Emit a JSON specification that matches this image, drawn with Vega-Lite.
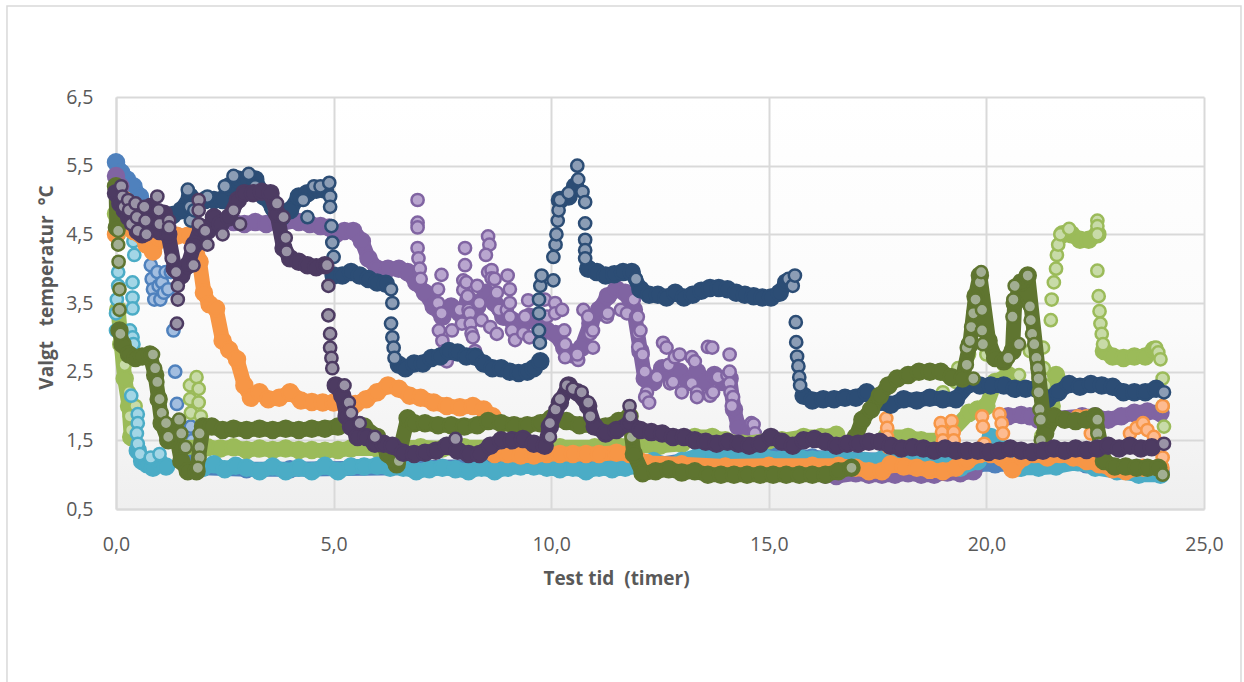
{"$schema":"https://vega.github.io/schema/vega-lite/v6.json","width":1088,"height":412,"autosize":{"type":"none"},"padding":{"left":116,"top":97,"right":40,"bottom":173},"background":"white",
"config":{"view":{"stroke":null,"fill":{"gradient":"linear","x1":0,"y1":0,"x2":0,"y2":1,"stops":[{"offset":0,"color":"#ffffff"},{"offset":0.55,"color":"#fbfbfb"},{"offset":1,"color":"#efefef"}]}}},
"datasets":{
"frame":[{"x1":-2.505,"x2":25.85,"y1":7.825,"y2":-2.3}],
"blue":[{"time":0,"temp":5.55},{"time":0.12,"temp":5.4},{"time":0.25,"temp":5.3},{"time":0.4,"temp":5.2},{"time":0.55,"temp":5.05},{"time":0.7,"temp":4.85},{"time":0.72,"temp":null},{"time":1.7,"temp":1.3},{"time":2,"temp":1.1},{"time":3,"temp":1.08},{"time":4,"temp":1.08},{"time":12.5,"temp":1.15},{"time":14,"temp":1.3},{"time":15,"temp":1.3},{"time":16,"temp":1.25},{"time":19.8,"temp":1.15},{"time":20.2,"temp":1.15},{"time":20.8,"temp":1.15},{"time":21.4,"temp":1.15},{"time":21.8,"temp":1.18},{"time":22.3,"temp":1.15},{"time":23,"temp":1.1},{"time":23.6,"temp":1.05},{"time":24,"temp":1.05}],
"blueOpen":[{"time":0.75,"temp":4.6},{"time":0.78,"temp":4.3},{"time":0.8,"temp":4.05},{"time":0.82,"temp":3.85},{"time":0.85,"temp":3.7},{"time":0.88,"temp":3.55},{"time":0.95,"temp":3.95},{"time":0.98,"temp":3.75},{"time":1.02,"temp":3.55},{"time":1.06,"temp":3.8},{"time":1.1,"temp":3.65},{"time":1.14,"temp":3.95},{"time":1.2,"temp":3.7},{"time":1.26,"temp":3.95},{"time":1.32,"temp":3.1},{"time":1.36,"temp":2.5},{"time":1.4,"temp":2.03},{"time":1.72,"temp":1.7},{"time":1.75,"temp":1.5}],
"purple":[{"time":0,"temp":5.35},{"time":0.1,"temp":5.2},{"time":0.12,"temp":null},{"time":2.7,"temp":4.68},{"time":2.95,"temp":4.65},{"time":3.2,"temp":4.68},{"time":3.45,"temp":4.65},{"time":3.7,"temp":4.68},{"time":3.95,"temp":4.7},{"time":4.2,"temp":4.68},{"time":4.45,"temp":4.65},{"time":4.7,"temp":4.62},{"time":4.9,"temp":4.6},{"time":5.05,"temp":4.5},{"time":5.25,"temp":4.55},{"time":5.45,"temp":4.55},{"time":5.65,"temp":4.4},{"time":5.8,"temp":4.15},{"time":6,"temp":4},{"time":6.25,"temp":4},{"time":6.5,"temp":4},{"time":6.7,"temp":3.95},{"time":6.9,"temp":3.8},{"time":7.1,"temp":3.65},{"time":7.3,"temp":3.45},{"time":7.5,"temp":3.3},{"time":7.7,"temp":3.45},{"time":7.9,"temp":3.35},{"time":8.1,"temp":3.55},{"time":8.3,"temp":3.45},{"time":8.5,"temp":3.65},{"time":8.7,"temp":3.5},{"time":8.9,"temp":3.3},{"time":9.1,"temp":3.25},{"time":9.3,"temp":3.1},{"time":9.5,"temp":3.3},{"time":9.7,"temp":3.2},{"time":9.9,"temp":3.1},{"time":10.1,"temp":3.05},{"time":10.3,"temp":2.85},{"time":10.5,"temp":2.75},{"time":10.7,"temp":2.85},{"time":10.9,"temp":3.2},{"time":11.1,"temp":3.4},{"time":11.3,"temp":3.6},{"time":11.5,"temp":3.7},{"time":11.7,"temp":3.65},{"time":11.9,"temp":3.4},{"time":12.05,"temp":2.8},{"time":12.15,"temp":2.4},{"time":12.35,"temp":2.35},{"time":12.55,"temp":2.55},{"time":12.75,"temp":2.4},{"time":12.95,"temp":2.5},{"time":13.15,"temp":2.35},{"time":13.35,"temp":2.5},{"time":13.55,"temp":2.35},{"time":13.75,"temp":2.45},{"time":13.95,"temp":2.35},{"time":14.1,"temp":2.4},{"time":14.2,"temp":1.95},{"time":14.3,"temp":1.7},{"time":14.55,"temp":1.65},{"time":14.6,"temp":null},{"time":16.3,"temp":1},{"time":16.55,"temp":0.98},{"time":17,"temp":1.02},{"time":17.3,"temp":1},{"time":17.6,"temp":1},{"time":17.9,"temp":1},{"time":18.2,"temp":1.02},{"time":18.5,"temp":1},{"time":18.8,"temp":1},{"time":19.1,"temp":1.03},{"time":19.4,"temp":1.02},{"time":19.7,"temp":1.05},{"time":19.8,"temp":null},{"time":20.5,"temp":1.85},{"time":20.8,"temp":1.87},{"time":21,"temp":1.85},{"time":21.2,"temp":1.8},{"time":22.2,"temp":1.85},{"time":22.5,"temp":1.85},{"time":22.8,"temp":1.8},{"time":23.1,"temp":1.85},{"time":23.4,"temp":1.9},{"time":23.7,"temp":1.92},{"time":24,"temp":1.9}],
"purpleOpen":[{"time":6.93,"temp":5},{"time":6.93,"temp":4.67},{"time":6.93,"temp":4.6},{"time":6.93,"temp":4.3},{"time":6.95,"temp":4.15},{"time":6.98,"temp":4},{"time":7,"temp":3.85},{"time":7.48,"temp":3.91},{"time":7.4,"temp":3.7},{"time":7.4,"temp":3.5},{"time":7.48,"temp":3.35},{"time":7.42,"temp":3.1},{"time":7.5,"temp":2.95},{"time":7.55,"temp":2.8},{"time":7.6,"temp":2.65},{"time":7.72,"temp":3.1},{"time":7.9,"temp":3.4},{"time":7.95,"temp":3.2},{"time":7.98,"temp":3.83},{"time":7.98,"temp":3.69},{"time":8.02,"temp":4.3},{"time":8.02,"temp":4.05},{"time":8.05,"temp":3.8},{"time":8.08,"temp":3.6},{"time":8.1,"temp":3.4},{"time":8.13,"temp":3.35},{"time":8.15,"temp":3.2},{"time":8.17,"temp":3.06},{"time":8.2,"temp":3},{"time":8.25,"temp":2.8},{"time":8.3,"temp":3.75},{"time":8.35,"temp":3.5},{"time":8.4,"temp":3.25},{"time":8.55,"temp":4.47},{"time":8.58,"temp":4.35},{"time":8.5,"temp":4.2},{"time":8.55,"temp":3.95},{"time":8.63,"temp":3.98},{"time":8.63,"temp":3.86},{"time":8.6,"temp":3.15},{"time":8.7,"temp":3.85},{"time":8.75,"temp":3.65},{"time":8.8,"temp":3.4},{"time":8.75,"temp":3.05},{"time":8.98,"temp":3.4},{"time":9,"temp":3.9},{"time":9.05,"temp":3.7},{"time":9.05,"temp":3.5},{"time":9.05,"temp":3.3},{"time":9.1,"temp":3.1},{"time":9.17,"temp":2.96},{"time":9.36,"temp":3.06},{"time":9.47,"temp":3.54},{"time":9.4,"temp":3.3},{"time":9.5,"temp":3},{"time":9.85,"temp":3.55},{"time":9.9,"temp":3.3},{"time":10.09,"temp":3.5},{"time":10.09,"temp":3.35},{"time":10.25,"temp":3.4},{"time":10.3,"temp":3.1},{"time":10.32,"temp":2.9},{"time":10.32,"temp":2.71},{"time":10.62,"temp":2.67},{"time":10.6,"temp":2.75},{"time":10.74,"temp":3.4},{"time":10.85,"temp":3.3},{"time":10.9,"temp":3.05},{"time":10.96,"temp":2.85},{"time":10.96,"temp":3.1},{"time":11.28,"temp":3.3},{"time":11.3,"temp":3.35},{"time":11.6,"temp":3.4},{"time":11.74,"temp":3.35},{"time":11.9,"temp":3.55},{"time":11.95,"temp":3.3},{"time":11.99,"temp":3.3},{"time":12,"temp":3.06},{"time":12,"temp":2.86},{"time":12.05,"temp":3.1},{"time":12.1,"temp":2.75},{"time":12.15,"temp":2.5},{"time":12.2,"temp":2.2},{"time":12.16,"temp":2.13},{"time":12.25,"temp":2.05},{"time":12.43,"temp":2.42},{"time":12.57,"temp":2.92},{"time":12.65,"temp":2.85},{"time":12.7,"temp":2.6},{"time":12.73,"temp":2.33},{"time":12.84,"temp":2.71},{"time":12.95,"temp":2.75},{"time":12.8,"temp":2.35},{"time":13,"temp":2.2},{"time":13.23,"temp":2.71},{"time":13.23,"temp":2.33},{"time":13.3,"temp":2.65},{"time":13.35,"temp":2.2},{"time":13.35,"temp":2.13},{"time":13.6,"temp":2.86},{"time":13.7,"temp":2.85},{"time":13.65,"temp":2.15},{"time":13.72,"temp":2.2},{"time":13.83,"temp":2.42},{"time":14.1,"temp":2.75},{"time":14.05,"temp":2.45},{"time":14.1,"temp":2.5},{"time":14.1,"temp":2.33},{"time":14.12,"temp":2.2},{"time":14.18,"temp":2.13},{"time":14.15,"temp":2},{"time":14.6,"temp":1.75},{"time":14.65,"temp":1.73},{"time":14.68,"temp":1.6}],
"green":[{"time":0,"temp":4.8},{"time":0.02,"temp":4.5},{"time":0.03,"temp":null},{"time":0.05,"temp":3.4},{"time":0.12,"temp":2.9},{"time":0.2,"temp":2.4},{"time":0.3,"temp":2},{"time":0.35,"temp":1.55},{"time":0.4,"temp":null},{"time":1.5,"temp":1.4},{"time":2.1,"temp":1.4},{"time":2.4,"temp":1.38},{"time":2.7,"temp":1.4},{"time":3,"temp":1.36},{"time":3.3,"temp":1.38},{"time":3.6,"temp":1.36},{"time":3.9,"temp":1.38},{"time":4.2,"temp":1.36},{"time":4.5,"temp":1.36},{"time":4.8,"temp":1.35},{"time":5.1,"temp":1.36},{"time":5.4,"temp":1.38},{"time":6,"temp":1.38},{"time":7,"temp":1.4},{"time":7.5,"temp":1.38},{"time":8,"temp":1.4},{"time":8.7,"temp":1.4},{"time":9.2,"temp":1.42},{"time":9.7,"temp":1.42},{"time":10.2,"temp":1.4},{"time":11,"temp":1.4},{"time":11.5,"temp":1.42},{"time":12,"temp":1.42},{"time":12.5,"temp":1.42},{"time":13,"temp":1.45},{"time":13.3,"temp":1.55},{"time":13.7,"temp":1.55},{"time":14,"temp":1.5},{"time":14.4,"temp":1.45},{"time":15,"temp":1.5},{"time":15.3,"temp":1.5},{"time":15.8,"temp":1.55},{"time":16.2,"temp":1.55},{"time":16.55,"temp":1.58},{"time":16.6,"temp":null},{"time":17.7,"temp":1.55},{"time":18.2,"temp":1.55},{"time":18.5,"temp":1.5},{"time":19,"temp":1.5},{"time":19.6,"temp":1.9},{"time":19.8,"temp":1.95},{"time":20,"temp":2},{"time":20.2,"temp":2.35},{"time":20.5,"temp":2.45},{"time":20.6,"temp":null},{"time":21.3,"temp":1.55},{"time":21.5,"temp":2},{"time":21.6,"temp":2.45},{"time":21.65,"temp":null},{"time":21.75,"temp":4.5},{"time":21.95,"temp":4.5},{"time":22.15,"temp":4.42},{"time":22.35,"temp":4.42},{"time":22.55,"temp":4.5},{"time":22.6,"temp":null},{"time":22.7,"temp":2.8},{"time":22.9,"temp":2.72},{"time":23.15,"temp":2.7},{"time":23.4,"temp":2.72},{"time":23.65,"temp":2.72},{"time":23.85,"temp":2.82}],
"greenOpen":[{"time":0.2,"temp":2.6},{"time":0.3,"temp":2.2},{"time":0.45,"temp":2},{"time":0.32,"temp":1.85},{"time":0.35,"temp":1.65},{"time":1.7,"temp":2.3},{"time":1.7,"temp":2.1},{"time":1.72,"temp":1.9},{"time":1.85,"temp":2.42},{"time":1.9,"temp":2.25},{"time":1.9,"temp":2.05},{"time":1.95,"temp":1.85},{"time":17.75,"temp":1.6},{"time":19,"temp":2.2},{"time":19.3,"temp":2.35},{"time":19.35,"temp":2.55},{"time":19.6,"temp":2.75},{"time":20,"temp":2.75},{"time":20.4,"temp":2.6},{"time":20.75,"temp":2.45},{"time":21,"temp":2.8},{"time":21.3,"temp":2.85},{"time":21.32,"temp":2.55},{"time":21.35,"temp":2.3},{"time":21.32,"temp":2.05},{"time":21.38,"temp":1.85},{"time":21.48,"temp":3.25},{"time":21.5,"temp":3.55},{"time":21.55,"temp":3.8},{"time":21.6,"temp":4},{"time":21.62,"temp":4.2},{"time":21.65,"temp":4.35},{"time":21.7,"temp":4.5},{"time":21.9,"temp":4.58},{"time":22.55,"temp":4.7},{"time":22.55,"temp":4.62},{"time":22.55,"temp":4.5},{"time":22.55,"temp":3.97},{"time":22.58,"temp":3.6},{"time":22.6,"temp":3.38},{"time":22.62,"temp":3.2},{"time":22.65,"temp":3.05},{"time":22.68,"temp":2.9},{"time":23.9,"temp":2.85},{"time":23.95,"temp":2.78},{"time":24,"temp":2.68},{"time":24.05,"temp":2.4},{"time":24.05,"temp":2},{"time":24.08,"temp":1.7}],
"teal":[{"time":0.5,"temp":1.35},{"time":0.6,"temp":1.2},{"time":0.72,"temp":1.15},{"time":0.85,"temp":1.1},{"time":1,"temp":1.18},{"time":1.15,"temp":1.12},{"time":1.3,"temp":null},{"time":2,"temp":1.1},{"time":2.25,"temp":1.15},{"time":2.5,"temp":1.08},{"time":2.75,"temp":1.13},{"time":3,"temp":1.1},{"time":3.3,"temp":1.05},{"time":3.6,"temp":1.12},{"time":3.9,"temp":1.05},{"time":4.2,"temp":1.1},{"time":4.5,"temp":1.05},{"time":4.8,"temp":1.13},{"time":5.1,"temp":1.05},{"time":5.4,"temp":1.12},{"time":5.7,"temp":1.12},{"time":6,"temp":1.13},{"time":6.3,"temp":1.1},{"time":6.6,"temp":1.1},{"time":6.9,"temp":1.05},{"time":7.2,"temp":1.08},{"time":7.5,"temp":1.1},{"time":7.8,"temp":1.08},{"time":8.1,"temp":1.05},{"time":8.4,"temp":1.1},{"time":8.7,"temp":1.05},{"time":9,"temp":1.1},{"time":9.3,"temp":1.12},{"time":9.6,"temp":1.12},{"time":9.9,"temp":1.1},{"time":10.2,"temp":1.08},{"time":10.5,"temp":1.1},{"time":10.8,"temp":1.05},{"time":11.1,"temp":1.1},{"time":11.4,"temp":1.08},{"time":11.7,"temp":1.1},{"time":12,"temp":1.12},{"time":12.35,"temp":1.2},{"time":12.7,"temp":1.12},{"time":13,"temp":1.2},{"time":13.4,"temp":1.28},{"time":13.75,"temp":1.22},{"time":14.1,"temp":1.28},{"time":14.5,"temp":1.22},{"time":14.9,"temp":1.25},{"time":15.3,"temp":1.22},{"time":15.7,"temp":1.25},{"time":16,"temp":1.22},{"time":16.4,"temp":1.25},{"time":16.8,"temp":1.22},{"time":17.2,"temp":1.2},{"time":17.6,"temp":1.22},{"time":18,"temp":1.2},{"time":18.5,"temp":1.15},{"time":19,"temp":1.15},{"time":19.4,"temp":1.1},{"time":19.8,"temp":1.2},{"time":20.1,"temp":1.55},{"time":20.3,"temp":1.4},{"time":20.8,"temp":1.1},{"time":21.2,"temp":1.1},{"time":21.6,"temp":1.12},{"time":22.1,"temp":1.18},{"time":22.5,"temp":1.1},{"time":23,"temp":1.05},{"time":23.5,"temp":1},{"time":24,"temp":1}],
"tealOpen":[{"time":0,"temp":3.1},{"time":0,"temp":3.35},{"time":0.02,"temp":3.55},{"time":0.05,"temp":3.75},{"time":0.05,"temp":3.95},{"time":0.4,"temp":4.4},{"time":0.42,"temp":4.2},{"time":0.38,"temp":3.8},{"time":0.38,"temp":3.58},{"time":0.38,"temp":3.42},{"time":0.32,"temp":3.1},{"time":0.38,"temp":3},{"time":0.4,"temp":2.9},{"time":0.35,"temp":2.15},{"time":0.5,"temp":1.88},{"time":0.5,"temp":1.75},{"time":0.48,"temp":1.6},{"time":0.5,"temp":1.45},{"time":0.55,"temp":1.3},{"time":0.8,"temp":1.25},{"time":1,"temp":1.3}],
"orange":[{"time":0,"temp":4.5},{"time":0.12,"temp":4.7},{"time":0.2,"temp":5},{"time":0.3,"temp":4.75},{"time":0.4,"temp":4.55},{"time":0.55,"temp":4.5},{"time":0.7,"temp":4.35},{"time":0.85,"temp":4.25},{"time":1,"temp":4.45},{"time":1.2,"temp":4.48},{"time":1.4,"temp":4.48},{"time":1.65,"temp":4.48},{"time":1.8,"temp":4.4},{"time":1.92,"temp":4.1},{"time":2.02,"temp":3.65},{"time":2.15,"temp":3.48},{"time":2.3,"temp":3.42},{"time":2.45,"temp":2.95},{"time":2.6,"temp":2.82},{"time":2.78,"temp":2.68},{"time":2.95,"temp":2.3},{"time":3.1,"temp":2.12},{"time":3.3,"temp":2.2},{"time":3.5,"temp":2.1},{"time":3.75,"temp":2.12},{"time":4,"temp":2.2},{"time":4.25,"temp":2.08},{"time":4.5,"temp":2.06},{"time":4.75,"temp":2.05},{"time":5,"temp":2.05},{"time":5.25,"temp":2.05},{"time":5.5,"temp":2.03},{"time":5.75,"temp":2.1},{"time":6,"temp":2.2},{"time":6.25,"temp":2.3},{"time":6.5,"temp":2.25},{"time":6.75,"temp":2.15},{"time":7,"temp":2.12},{"time":7.3,"temp":2.05},{"time":7.6,"temp":2},{"time":7.9,"temp":1.98},{"time":8.2,"temp":2},{"time":8.45,"temp":1.95},{"time":8.65,"temp":1.85},{"time":8.68,"temp":null},{"time":8.7,"temp":1.3},{"time":9,"temp":1.3},{"time":9.3,"temp":1.28},{"time":9.6,"temp":1.28},{"time":9.9,"temp":1.3},{"time":10.2,"temp":1.3},{"time":10.5,"temp":1.3},{"time":10.8,"temp":1.3},{"time":11.1,"temp":1.3},{"time":11.5,"temp":1.32},{"time":11.8,"temp":1.3},{"time":12.2,"temp":1.17},{"time":13,"temp":1.15},{"time":14,"temp":1.12},{"time":15,"temp":1.13},{"time":16,"temp":1.13},{"time":16.6,"temp":1.13},{"time":17,"temp":1.1},{"time":17.3,"temp":1.05},{"time":17.6,"temp":1.05},{"time":17.8,"temp":1.15},{"time":18.1,"temp":1.12},{"time":18.4,"temp":1.1},{"time":18.7,"temp":1.07},{"time":19,"temp":1.05},{"time":19.3,"temp":1.1},{"time":19.55,"temp":1.2},{"time":19.85,"temp":1.3},{"time":20.1,"temp":1.3},{"time":20.35,"temp":1.25},{"time":20.6,"temp":1.08},{"time":20.85,"temp":1.25},{"time":21.1,"temp":1.3},{"time":21.4,"temp":1.25},{"time":21.7,"temp":1.3},{"time":22,"temp":1.25},{"time":22.3,"temp":1.2},{"time":22.6,"temp":1.15},{"time":22.9,"temp":1.08},{"time":23.2,"temp":1.05},{"time":23.6,"temp":1.1},{"time":24,"temp":1.1}],
"orangeOpen":[{"time":17.7,"temp":1.82},{"time":17.72,"temp":1.68},{"time":17.72,"temp":1.55},{"time":17.75,"temp":1.4},{"time":18.95,"temp":1.75},{"time":18.98,"temp":1.62},{"time":19,"temp":1.5},{"time":19.2,"temp":1.78},{"time":19.25,"temp":1.62},{"time":19.25,"temp":1.5},{"time":19.9,"temp":1.85},{"time":19.92,"temp":1.7},{"time":19.95,"temp":1.45},{"time":20.3,"temp":1.88},{"time":20.35,"temp":1.75},{"time":20.38,"temp":1.6},{"time":22.1,"temp":1.85},{"time":22.3,"temp":1.85},{"time":22.4,"temp":1.6},{"time":22.5,"temp":1.75},{"time":23.3,"temp":1.6},{"time":23.45,"temp":1.68},{"time":23.6,"temp":1.75},{"time":23.7,"temp":1.65},{"time":23.85,"temp":1.55},{"time":24.05,"temp":2},{"time":24.05,"temp":1.25}],
"navy":[{"time":1.3,"temp":4.78},{"time":1.5,"temp":4.85},{"time":1.7,"temp":5.05},{"time":1.85,"temp":4.95},{"time":2.05,"temp":5},{"time":2.25,"temp":5},{"time":2.45,"temp":5},{"time":2.6,"temp":5.2},{"time":2.8,"temp":5.3},{"time":3,"temp":5.3},{"time":3.2,"temp":5.3},{"time":3.4,"temp":5.05},{"time":3.6,"temp":4.9},{"time":3.8,"temp":4.75},{"time":4,"temp":4.85},{"time":4.2,"temp":5.05},{"time":4.4,"temp":5.1},{"time":4.6,"temp":5.15},{"time":4.8,"temp":5.15},{"time":4.85,"temp":null},{"time":5,"temp":3.9},{"time":5.2,"temp":3.9},{"time":5.4,"temp":3.95},{"time":5.6,"temp":3.9},{"time":5.8,"temp":3.85},{"time":6,"temp":3.8},{"time":6.2,"temp":3.78},{"time":6.3,"temp":null},{"time":6.5,"temp":2.6},{"time":6.65,"temp":2.55},{"time":6.85,"temp":2.62},{"time":7.05,"temp":2.62},{"time":7.25,"temp":2.7},{"time":7.45,"temp":2.72},{"time":7.65,"temp":2.8},{"time":7.85,"temp":2.78},{"time":8.05,"temp":2.72},{"time":8.25,"temp":2.72},{"time":8.45,"temp":2.62},{"time":8.65,"temp":2.55},{"time":8.85,"temp":2.55},{"time":9.05,"temp":2.5},{"time":9.25,"temp":2.48},{"time":9.45,"temp":2.5},{"time":9.6,"temp":2.55},{"time":9.75,"temp":2.65},{"time":9.8,"temp":null},{"time":10.2,"temp":5},{"time":10.4,"temp":5.05},{"time":10.55,"temp":5.2},{"time":10.6,"temp":null},{"time":10.85,"temp":4},{"time":11.05,"temp":3.95},{"time":11.25,"temp":3.9},{"time":11.45,"temp":3.92},{"time":11.65,"temp":3.95},{"time":11.85,"temp":3.95},{"time":12.05,"temp":3.7},{"time":12.25,"temp":3.62},{"time":12.45,"temp":3.62},{"time":12.65,"temp":3.58},{"time":12.85,"temp":3.65},{"time":13.05,"temp":3.58},{"time":13.25,"temp":3.62},{"time":13.45,"temp":3.68},{"time":13.65,"temp":3.72},{"time":13.85,"temp":3.72},{"time":14.05,"temp":3.7},{"time":14.25,"temp":3.65},{"time":14.45,"temp":3.62},{"time":14.65,"temp":3.6},{"time":14.85,"temp":3.58},{"time":15.05,"temp":3.58},{"time":15.25,"temp":3.65},{"time":15.4,"temp":3.8},{"time":15.45,"temp":null},{"time":15.8,"temp":2.15},{"time":16,"temp":2.08},{"time":16.25,"temp":2.1},{"time":16.5,"temp":2.1},{"time":16.75,"temp":2.12},{"time":17,"temp":2.12},{"time":17.25,"temp":2.2},{"time":17.5,"temp":2.05},{"time":17.8,"temp":2.02},{"time":18.1,"temp":2.1},{"time":18.4,"temp":2.08},{"time":18.7,"temp":2.12},{"time":19,"temp":2.1},{"time":19.3,"temp":2.1},{"time":19.6,"temp":2.32},{"time":19.85,"temp":2.3},{"time":20.1,"temp":2.3},{"time":20.4,"temp":2.3},{"time":20.65,"temp":2.25},{"time":20.9,"temp":2.25},{"time":21.15,"temp":2.25},{"time":21.4,"temp":2.1},{"time":21.65,"temp":2.2},{"time":21.9,"temp":2.32},{"time":22.15,"temp":2.28},{"time":22.4,"temp":2.32},{"time":22.65,"temp":2.3},{"time":22.9,"temp":2.28},{"time":23.15,"temp":2.2},{"time":23.4,"temp":2.2},{"time":23.65,"temp":2.2},{"time":23.9,"temp":2.25}],
"navyOpen":[{"time":1.65,"temp":5.15},{"time":1.7,"temp":4.9},{"time":1.72,"temp":4.7},{"time":1.8,"temp":4.85},{"time":2.1,"temp":5.05},{"time":2.5,"temp":5.2},{"time":2.7,"temp":5.35},{"time":3.05,"temp":5.38},{"time":3.2,"temp":5.2},{"time":3.6,"temp":4.85},{"time":4.3,"temp":5},{"time":4.4,"temp":4.75},{"time":4.55,"temp":5.2},{"time":4.7,"temp":5.2},{"time":4.9,"temp":5.25},{"time":4.92,"temp":5.05},{"time":4.92,"temp":4.9},{"time":4.95,"temp":4.62},{"time":4.97,"temp":4.38},{"time":5,"temp":4.17},{"time":6.32,"temp":3.7},{"time":6.35,"temp":3.5},{"time":6.32,"temp":3.2},{"time":6.35,"temp":3},{"time":6.38,"temp":2.85},{"time":6.4,"temp":2.7},{"time":9.74,"temp":2.92},{"time":9.72,"temp":3.1},{"time":9.72,"temp":3.35},{"time":9.72,"temp":3.55},{"time":9.75,"temp":3.75},{"time":9.78,"temp":3.9},{"time":10.05,"temp":3.83},{"time":10.05,"temp":4.17},{"time":10.1,"temp":4.35},{"time":10.12,"temp":4.5},{"time":10.15,"temp":4.7},{"time":10.17,"temp":4.85},{"time":10.2,"temp":5},{"time":10.4,"temp":5.1},{"time":10.6,"temp":5.5},{"time":10.62,"temp":5.3},{"time":10.72,"temp":5.12},{"time":10.78,"temp":4.97},{"time":10.78,"temp":4.66},{"time":10.78,"temp":4.42},{"time":10.78,"temp":4.27},{"time":10.78,"temp":4.15},{"time":11.95,"temp":3.85},{"time":15.45,"temp":3.85},{"time":15.55,"temp":3.75},{"time":15.62,"temp":3.22},{"time":15.63,"temp":2.93},{"time":15.65,"temp":2.72},{"time":15.68,"temp":2.58},{"time":15.7,"temp":2.42},{"time":15.72,"temp":2.3},{"time":15.6,"temp":3.9},{"time":24.08,"temp":2.2}],
"olive":[{"time":0,"temp":5.2},{"time":0.02,"temp":4.6},{"time":0.05,"temp":null},{"time":0.08,"temp":3.1},{"time":0.15,"temp":2.9},{"time":0.3,"temp":2.75},{"time":0.45,"temp":2.7},{"time":0.6,"temp":2.72},{"time":0.78,"temp":2.75},{"time":0.9,"temp":2.45},{"time":0.98,"temp":2.1},{"time":1.05,"temp":1.75},{"time":1.2,"temp":1.5},{"time":1.35,"temp":1.7},{"time":1.5,"temp":1.2},{"time":1.65,"temp":1.05},{"time":1.85,"temp":1.05},{"time":2,"temp":1.7},{"time":2.2,"temp":1.7},{"time":2.45,"temp":1.65},{"time":2.7,"temp":1.67},{"time":3,"temp":1.65},{"time":3.3,"temp":1.67},{"time":3.6,"temp":1.65},{"time":3.9,"temp":1.67},{"time":4.2,"temp":1.65},{"time":4.5,"temp":1.67},{"time":4.8,"temp":1.67},{"time":5.1,"temp":1.7},{"time":5.4,"temp":1.75},{"time":5.7,"temp":1.7},{"time":6,"temp":1.55},{"time":6.25,"temp":1.3},{"time":6.45,"temp":1.15},{"time":6.7,"temp":1.82},{"time":6.85,"temp":1.75},{"time":7.1,"temp":1.75},{"time":7.4,"temp":1.72},{"time":7.7,"temp":1.72},{"time":8,"temp":1.7},{"time":8.3,"temp":1.72},{"time":8.55,"temp":1.78},{"time":8.85,"temp":1.75},{"time":9.15,"temp":1.72},{"time":9.45,"temp":1.72},{"time":9.75,"temp":1.75},{"time":10,"temp":1.82},{"time":10.35,"temp":1.78},{"time":10.65,"temp":1.72},{"time":10.95,"temp":1.72},{"time":11.25,"temp":1.7},{"time":11.55,"temp":1.78},{"time":11.8,"temp":1.85},{"time":11.9,"temp":1.3},{"time":12.1,"temp":1.02},{"time":12.4,"temp":1.05},{"time":12.7,"temp":1.08},{"time":13,"temp":1.03},{"time":13.3,"temp":1.05},{"time":13.6,"temp":1},{"time":13.9,"temp":1},{"time":14.2,"temp":1},{"time":14.5,"temp":1},{"time":14.8,"temp":1},{"time":15.1,"temp":1},{"time":15.4,"temp":1},{"time":15.7,"temp":1},{"time":16,"temp":1},{"time":16.3,"temp":1},{"time":16.6,"temp":1.05},{"time":16.9,"temp":1.1},{"time":16.95,"temp":null},{"time":17,"temp":1.55},{"time":17.15,"temp":1.8},{"time":17.35,"temp":1.95},{"time":17.55,"temp":2.15},{"time":17.75,"temp":2.3},{"time":17.95,"temp":2.4},{"time":18.2,"temp":2.45},{"time":18.45,"temp":2.5},{"time":18.7,"temp":2.5},{"time":18.95,"temp":2.5},{"time":19.2,"temp":2.42},{"time":19.45,"temp":2.4},{"time":19.62,"temp":2.9},{"time":19.75,"temp":3.6},{"time":19.85,"temp":3.9},{"time":20.05,"temp":2.95},{"time":20.2,"temp":2.7},{"time":20.4,"temp":2.65},{"time":20.6,"temp":2.8},{"time":20.65,"temp":3.5},{"time":20.8,"temp":3.8},{"time":20.95,"temp":3.9},{"time":21.35,"temp":1.6},{"time":21.55,"temp":1.85},{"time":21.8,"temp":1.8},{"time":22.05,"temp":1.78},{"time":22.3,"temp":1.8},{"time":22.5,"temp":1.85},{"time":22.7,"temp":1.2},{"time":22.95,"temp":1.12},{"time":23.2,"temp":1.12},{"time":23.45,"temp":1.1},{"time":23.7,"temp":1.1},{"time":23.95,"temp":1.1}],
"oliveOpen":[{"time":0.02,"temp":5.05},{"time":0.05,"temp":4.55},{"time":0.05,"temp":4.35},{"time":0.06,"temp":4.1},{"time":0.08,"temp":3.7},{"time":0.08,"temp":3.4},{"time":0.1,"temp":3.05},{"time":0.85,"temp":2.75},{"time":0.9,"temp":2.55},{"time":0.95,"temp":2.35},{"time":1,"temp":2.1},{"time":1.05,"temp":1.9},{"time":1.15,"temp":1.75},{"time":1.2,"temp":1.55},{"time":1.45,"temp":1.8},{"time":1.5,"temp":1.6},{"time":1.6,"temp":1.4},{"time":1.92,"temp":1.6},{"time":1.92,"temp":1.4},{"time":1.92,"temp":1.25},{"time":1.88,"temp":1.1},{"time":6.5,"temp":1.2},{"time":11.82,"temp":1.8},{"time":11.85,"temp":1.55},{"time":16.9,"temp":1.1},{"time":19.55,"temp":2.85},{"time":19.55,"temp":2.6},{"time":19.62,"temp":2.95},{"time":19.65,"temp":3.15},{"time":19.7,"temp":3.35},{"time":19.75,"temp":3.55},{"time":19.85,"temp":3.8},{"time":19.88,"temp":3.95},{"time":19.9,"temp":3.4},{"time":19.9,"temp":3.1},{"time":19.92,"temp":2.9},{"time":19.7,"temp":2.4},{"time":20.5,"temp":2.7},{"time":20.75,"temp":2.9},{"time":20.6,"temp":3.3},{"time":20.62,"temp":3.55},{"time":20.65,"temp":3.75},{"time":20.95,"temp":3.9},{"time":21,"temp":3.45},{"time":21.02,"temp":3.25},{"time":21.05,"temp":3.05},{"time":21.1,"temp":2.9},{"time":21.15,"temp":2.7},{"time":21.18,"temp":2.55},{"time":21.2,"temp":2.4},{"time":21.2,"temp":2.2},{"time":21.22,"temp":1.95},{"time":21.25,"temp":1.8},{"time":21.25,"temp":1.5},{"time":22.55,"temp":1.8},{"time":22.55,"temp":1.6},{"time":22.58,"temp":1.45},{"time":24.05,"temp":1}],
"plum":[{"time":0,"temp":5.1},{"time":0.1,"temp":4.95},{"time":0.2,"temp":4.85},{"time":0.3,"temp":4.75},{"time":0.4,"temp":4.7},{"time":0.5,"temp":4.55},{"time":0.6,"temp":4.5},{"time":0.7,"temp":4.65},{"time":0.8,"temp":4.9},{"time":0.9,"temp":4.6},{"time":1,"temp":4.55},{"time":1.1,"temp":4.8},{"time":1.2,"temp":4.5},{"time":1.35,"temp":4},{"time":1.5,"temp":3.9},{"time":1.65,"temp":4.05},{"time":1.8,"temp":4.35},{"time":1.95,"temp":4.6},{"time":2.1,"temp":4.55},{"time":2.25,"temp":4.75},{"time":2.4,"temp":4.65},{"time":2.6,"temp":4.75},{"time":2.8,"temp":5},{"time":2.95,"temp":5.1},{"time":3.15,"temp":5.1},{"time":3.35,"temp":5.12},{"time":3.55,"temp":5.1},{"time":3.7,"temp":4.8},{"time":3.85,"temp":4.3},{"time":4,"temp":4.15},{"time":4.2,"temp":4.1},{"time":4.4,"temp":4.05},{"time":4.6,"temp":4.02},{"time":4.8,"temp":4.05},{"time":4.85,"temp":null},{"time":5.05,"temp":2.3},{"time":5.2,"temp":2.15},{"time":5.3,"temp":1.85},{"time":5.4,"temp":1.7},{"time":5.55,"temp":1.55},{"time":5.75,"temp":1.55},{"time":5.95,"temp":1.45},{"time":6.15,"temp":1.45},{"time":6.35,"temp":1.42},{"time":6.6,"temp":1.32},{"time":6.85,"temp":1.3},{"time":7.1,"temp":1.32},{"time":7.35,"temp":1.35},{"time":7.6,"temp":1.42},{"time":7.85,"temp":1.35},{"time":8.1,"temp":1.3},{"time":8.35,"temp":1.3},{"time":8.6,"temp":1.42},{"time":8.85,"temp":1.5},{"time":9.1,"temp":1.5},{"time":9.35,"temp":1.52},{"time":9.6,"temp":1.45},{"time":9.85,"temp":1.42},{"time":9.97,"temp":1.7},{"time":10.2,"temp":2.05},{"time":10.4,"temp":2.3},{"time":10.6,"temp":2.2},{"time":10.85,"temp":2},{"time":11,"temp":1.7},{"time":11.25,"temp":1.6},{"time":11.5,"temp":1.65},{"time":11.8,"temp":1.75},{"time":12.05,"temp":1.65},{"time":12.3,"temp":1.62},{"time":12.55,"temp":1.6},{"time":12.8,"temp":1.55},{"time":13.05,"temp":1.55},{"time":13.3,"temp":1.5},{"time":13.55,"temp":1.48},{"time":13.8,"temp":1.45},{"time":14.05,"temp":1.48},{"time":14.3,"temp":1.45},{"time":14.55,"temp":1.42},{"time":14.8,"temp":1.45},{"time":15.05,"temp":1.55},{"time":15.3,"temp":1.48},{"time":15.55,"temp":1.42},{"time":15.8,"temp":1.5},{"time":16.05,"temp":1.52},{"time":16.3,"temp":1.48},{"time":16.55,"temp":1.42},{"time":16.8,"temp":1.45},{"time":17.05,"temp":1.45},{"time":17.3,"temp":1.48},{"time":17.55,"temp":1.48},{"time":17.8,"temp":1.42},{"time":18.05,"temp":1.38},{"time":18.3,"temp":1.4},{"time":18.55,"temp":1.38},{"time":18.8,"temp":1.35},{"time":19.05,"temp":1.38},{"time":19.3,"temp":1.35},{"time":19.55,"temp":1.35},{"time":19.8,"temp":1.35},{"time":20.05,"temp":1.33},{"time":20.3,"temp":1.35},{"time":20.55,"temp":1.38},{"time":20.8,"temp":1.35},{"time":21.05,"temp":1.33},{"time":21.3,"temp":1.35},{"time":21.55,"temp":1.38},{"time":21.8,"temp":1.35},{"time":22.05,"temp":1.38},{"time":22.3,"temp":1.36},{"time":22.55,"temp":1.38},{"time":22.8,"temp":1.42},{"time":23.05,"temp":1.38},{"time":23.3,"temp":1.42},{"time":23.55,"temp":1.38},{"time":23.8,"temp":1.4}],
"plumOpen":[{"time":0.12,"temp":5.2},{"time":0.15,"temp":5.05},{"time":0.18,"temp":4.9},{"time":0.28,"temp":5},{"time":0.3,"temp":4.85},{"time":0.35,"temp":4.65},{"time":0.45,"temp":4.95},{"time":0.48,"temp":4.75},{"time":0.5,"temp":4.55},{"time":0.65,"temp":4.9},{"time":0.68,"temp":4.7},{"time":0.7,"temp":4.5},{"time":0.95,"temp":5.05},{"time":0.98,"temp":4.85},{"time":1,"temp":4.65},{"time":1.22,"temp":4.7},{"time":1.22,"temp":4.6},{"time":1.28,"temp":4.15},{"time":1.38,"temp":3.95},{"time":1.42,"temp":3.75},{"time":1.42,"temp":3.55},{"time":1.4,"temp":3.2},{"time":1.9,"temp":5},{"time":1.9,"temp":4.85},{"time":1.9,"temp":4.65},{"time":1.72,"temp":4.3},{"time":1.78,"temp":4.05},{"time":2.05,"temp":4.55},{"time":2.1,"temp":4.35},{"time":2.45,"temp":4.5},{"time":2.7,"temp":4.85},{"time":2.85,"temp":4.65},{"time":3.7,"temp":4.95},{"time":3.85,"temp":4.75},{"time":3.9,"temp":4.45},{"time":3.92,"temp":4.25},{"time":4.85,"temp":4.05},{"time":4.88,"temp":3.75},{"time":4.88,"temp":3.32},{"time":4.92,"temp":3.05},{"time":4.92,"temp":2.85},{"time":4.95,"temp":2.7},{"time":4.97,"temp":2.55},{"time":5.25,"temp":2.3},{"time":5.35,"temp":2.05},{"time":5.4,"temp":1.9},{"time":5.6,"temp":1.75},{"time":5.95,"temp":1.55},{"time":7.8,"temp":1.52},{"time":9.97,"temp":1.55},{"time":9.97,"temp":1.75},{"time":10.1,"temp":1.95},{"time":10.2,"temp":2.1},{"time":10.36,"temp":2.3},{"time":10.5,"temp":2.25},{"time":10.7,"temp":2.2},{"time":10.85,"temp":2.05},{"time":10.9,"temp":1.85},{"time":11.8,"temp":2},{"time":11.82,"temp":1.85},{"time":24.08,"temp":1.45}]
},
"encoding":{"x":{"field":"time","type":"quantitative"},"y":{"field":"temp","type":"quantitative"}},
"layer":[
{"data":{"name":"frame"},"mark":{"type":"rect","clip":false,"fill":"transparent","stroke":"#d9d9d9","strokeWidth":1.5},"encoding":{"x":{"field":"x1","type":"quantitative"},"x2":{"field":"x2"},"y":{"field":"y1","type":"quantitative"},"y2":{"field":"y2"}}},
{"data":{"values":[{"time":0,"temp":0.5}]},"mark":{"type":"point","opacity":0},
"encoding":{"x":{"field":"time","type":"quantitative","scale":{"domain":[0,25],"nice":false,"zero":false},"axis":{"values":[0,5,10,15,20,25],"labelExpr":"replace(format(datum.value,'.1f'),'.',',')","labelFlush":false,"title":"Test tid\u00a0 (timer)","titleFont":"Open Sans","titleFontSize":19,"titleFontWeight":"bold","titleColor":"#595959","titleX":500,"titleY":69,"titleBaseline":"middle","labelFont":"Open Sans","labelFontSize":19.5,"labelColor":"#595959","grid":true,"gridColor":"#d9d9d9","gridWidth":2,"ticks":false,"domainColor":"#d9d9d9","domainWidth":2,"labelPadding":26}},
"y":{"field":"temp","type":"quantitative","scale":{"domain":[0.5,6.5],"nice":false,"zero":false},"axis":{"values":[0.5,1.5,2.5,3.5,4.5,5.5,6.5],"labelExpr":"replace(format(datum.value,'.1f'),'.',',')","labelFlush":false,"title":"Valgt\u00a0\u00a0 temperatur\u00a0 °C","titleFont":"Open Sans","titleFontSize":19,"titleFontWeight":"bold","titleColor":"#595959","titleX":-70,"titleY":190,"titleBaseline":"middle","labelFont":"Open Sans","labelFontSize":19.5,"labelColor":"#595959","grid":true,"gridColor":"#d9d9d9","gridWidth":2,"ticks":false,"domainColor":"#d9d9d9","domainWidth":2,"labelPadding":23}}}},
{"data":{"name":"blue"},"mark":{"type":"line","clip":false,"stroke":"#4f81bd","strokeWidth":15,"strokeCap":"round","strokeJoin":"round"}},
{"data":{"name":"blue"},"mark":{"type":"circle","size":256,"opacity":1,"clip":false,"fill":"#4f81bd","stroke":"#4f81bd","strokeWidth":2.5}},
{"data":{"name":"blueOpen"},"mark":{"type":"circle","size":150,"opacity":1,"clip":false,"fill":"#a3bee0","stroke":"#4f81bd","strokeWidth":2.5}},
{"data":{"name":"purple"},"mark":{"type":"line","clip":false,"stroke":"#8064a2","strokeWidth":15,"strokeCap":"round","strokeJoin":"round"}},
{"data":{"name":"purple"},"mark":{"type":"circle","size":256,"opacity":1,"clip":false,"fill":"#8064a2","stroke":"#8064a2","strokeWidth":2.5}},
{"data":{"name":"purpleOpen"},"mark":{"type":"circle","size":150,"opacity":1,"clip":false,"fill":"#b9a6cf","stroke":"#8064a2","strokeWidth":2.5}},
{"data":{"name":"green"},"mark":{"type":"line","clip":false,"stroke":"#9bbb59","strokeWidth":15,"strokeCap":"round","strokeJoin":"round"}},
{"data":{"name":"green"},"mark":{"type":"circle","size":256,"opacity":1,"clip":false,"fill":"#9bbb59","stroke":"#9bbb59","strokeWidth":2.5}},
{"data":{"name":"greenOpen"},"mark":{"type":"circle","size":150,"opacity":1,"clip":false,"fill":"#c8dba8","stroke":"#9bbb59","strokeWidth":2.5}},
{"data":{"name":"teal"},"mark":{"type":"line","clip":false,"stroke":"#4bacc6","strokeWidth":15,"strokeCap":"round","strokeJoin":"round"}},
{"data":{"name":"teal"},"mark":{"type":"circle","size":256,"opacity":1,"clip":false,"fill":"#4bacc6","stroke":"#4bacc6","strokeWidth":2.5}},
{"data":{"name":"tealOpen"},"mark":{"type":"circle","size":150,"opacity":1,"clip":false,"fill":"#a3d6e6","stroke":"#4bacc6","strokeWidth":2.5}},
{"data":{"name":"orange"},"mark":{"type":"line","clip":false,"stroke":"#f79646","strokeWidth":15,"strokeCap":"round","strokeJoin":"round"}},
{"data":{"name":"orange"},"mark":{"type":"circle","size":256,"opacity":1,"clip":false,"fill":"#f79646","stroke":"#f79646","strokeWidth":2.5}},
{"data":{"name":"orangeOpen"},"mark":{"type":"circle","size":150,"opacity":1,"clip":false,"fill":"#fdbb90","stroke":"#f79646","strokeWidth":2.5}},
{"data":{"name":"navy"},"mark":{"type":"line","clip":false,"stroke":"#2c4d75","strokeWidth":15,"strokeCap":"round","strokeJoin":"round"}},
{"data":{"name":"navy"},"mark":{"type":"circle","size":256,"opacity":1,"clip":false,"fill":"#2c4d75","stroke":"#2c4d75","strokeWidth":2.5}},
{"data":{"name":"navyOpen"},"mark":{"type":"circle","size":150,"opacity":1,"clip":false,"fill":"#8c9db5","stroke":"#2c4d75","strokeWidth":2.5}},
{"data":{"name":"olive"},"mark":{"type":"line","clip":false,"stroke":"#5f7530","strokeWidth":15,"strokeCap":"round","strokeJoin":"round"}},
{"data":{"name":"olive"},"mark":{"type":"circle","size":256,"opacity":1,"clip":false,"fill":"#5f7530","stroke":"#5f7530","strokeWidth":2.5}},
{"data":{"name":"oliveOpen"},"mark":{"type":"circle","size":150,"opacity":1,"clip":false,"fill":"#a2ae92","stroke":"#5f7530","strokeWidth":2.5}},
{"data":{"name":"plum"},"mark":{"type":"line","clip":false,"stroke":"#4d3b62","strokeWidth":15,"strokeCap":"round","strokeJoin":"round"}},
{"data":{"name":"plum"},"mark":{"type":"circle","size":256,"opacity":1,"clip":false,"fill":"#4d3b62","stroke":"#4d3b62","strokeWidth":2.5}},
{"data":{"name":"plumOpen"},"mark":{"type":"circle","size":150,"opacity":1,"clip":false,"fill":"#9a94a6","stroke":"#4d3b62","strokeWidth":2.5}}
]}
